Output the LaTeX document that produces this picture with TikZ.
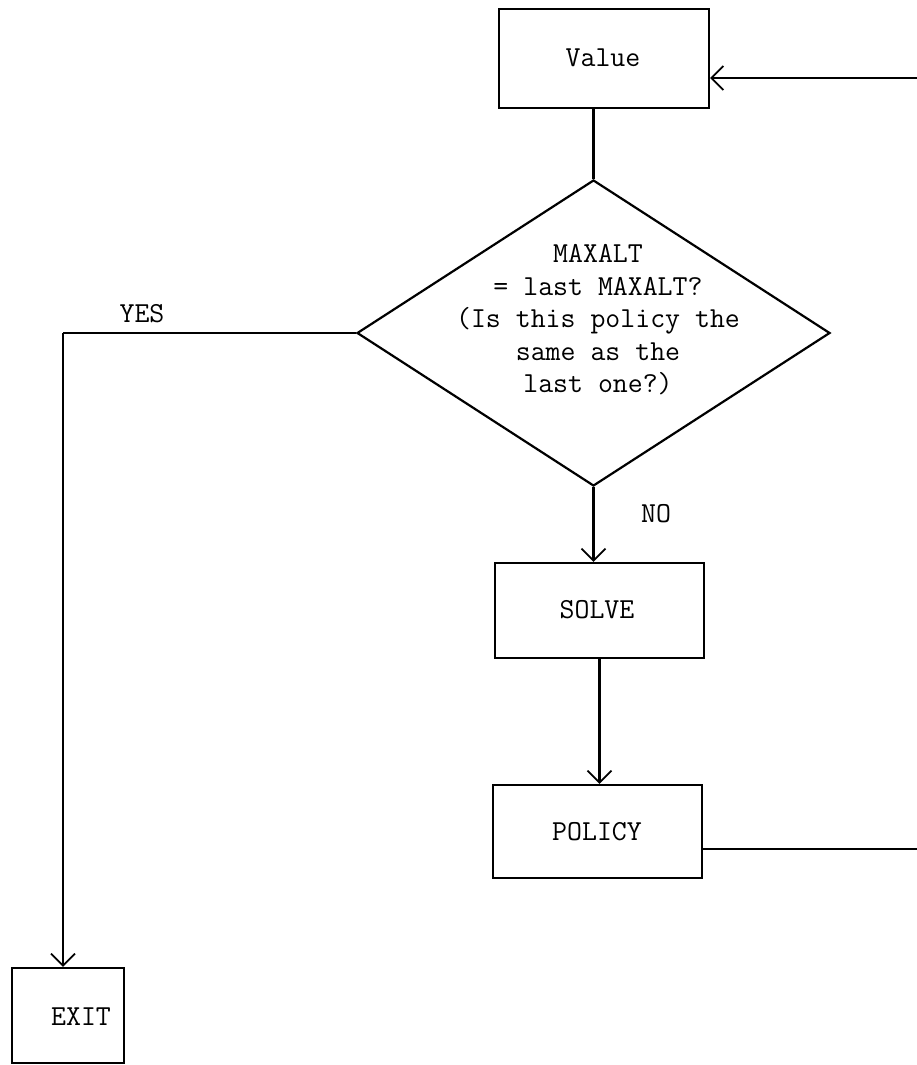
\documentclass[tikz,border=0pt]{standalone}
\usetikzlibrary{shapes.geometric,arrows.meta}
\begin{document}
\begin{tikzpicture}[x=1pt,y=-1pt,
  every node/.style={font=\ttfamily\fontsize{29}{32.5}\selectfont},
  box/.style={draw,line width=2.2pt,inner sep=0pt},
  conn/.style={line width=2.2pt},
  arr/.style={conn,-{Straight Barb[length=12pt,width=24pt,line width=1.8pt]}},
  lbl/.style={inner sep=0pt}]
\useasboundingbox (0,0) rectangle (917,1065);
\node[box,minimum width=210pt,minimum height=99pt] (value) at (604,58.5) {};
\node[lbl] (valuetext) at (603,58) {Value};
\node[box,diamond,minimum width=473pt,minimum height=306pt] (dec) at (593.5,333) {};
\node[lbl,align=center] (dectext) at (598,320) {MAXALT\\= last MAXALT?\\(Is this policy the\\same as the\\last one?)};
\node[box,minimum width=209pt,minimum height=95pt] (solve) at (599.5,610.5) {};
\node[lbl] (solvetext) at (597,610) {SOLVE};
\node[box,minimum width=209pt,minimum height=93pt] (policy) at (597.5,831.5) {};
\node[lbl] (policytext) at (597,832) {POLICY};
\node[box,minimum width=112pt,minimum height=95pt] (exit) at (68,1015.5) {};
\node[lbl] (exittext) at (81,1017) {EXIT};
\node[lbl] (yes) at (142,314) {YES};
\node[lbl] (no) at (656,514) {NO};
\coordinate (yesc) at (63,333);
\coordinate (rin) at (917,78);
\coordinate (rout) at (917,849);
\draw[conn] (dec.north) -- (dec.north |- value.south);
\draw[arr] (dec.south) -- (dec.south |- solve.north);
\draw[arr] (solve.south) -- (solve.south |- policy.north);
\draw[conn] (dec.west) -- (yesc);
\draw[arr] (yesc) -- (yesc |- exit.north);
\draw[conn] (rout -| policy.east) -- (rout);
\draw[arr] (rin) -- (rin -| value.east);
\end{tikzpicture}
\end{document}
